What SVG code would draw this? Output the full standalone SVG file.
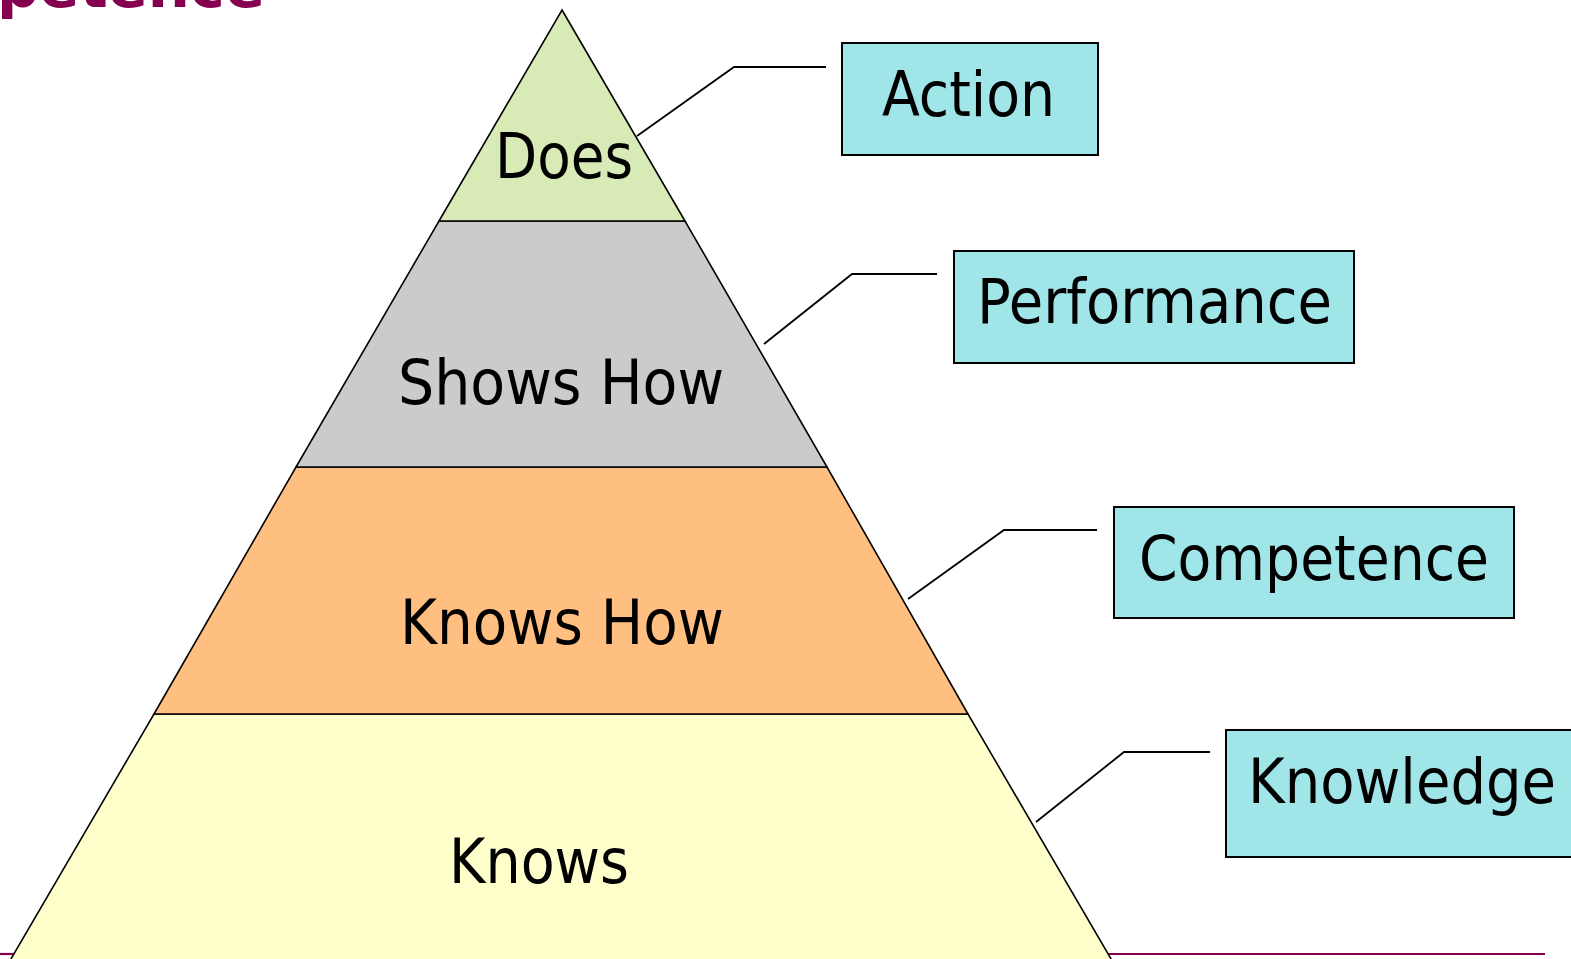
<svg xmlns="http://www.w3.org/2000/svg" width="1571" height="959" viewBox="0 0 1571 959">
<style>
.tier{stroke:#000;stroke-width:1.6;stroke-linejoin:miter}
.lbl{font-family:"DejaVu Sans","Liberation Sans",sans-serif;font-size:63px;fill:#000}
.box{fill:#A0E6E9;stroke:#000;stroke-width:2}
.conn{fill:none;stroke:#000;stroke-width:1.8}
.rule{stroke:#85004F;stroke-width:2.2}
</style>
<rect width="1571" height="959" fill="#fff"/>
<text x="-3" y="7" font-family="DejaVu Sans, Liberation Sans, sans-serif" font-weight="bold" font-size="58" fill="#85004F" textLength="268" lengthAdjust="spacingAndGlyphs">petence</text>
<line class="rule" x1="0" y1="954" x2="14" y2="954"/>
<line class="rule" x1="1108" y1="954" x2="1545" y2="954"/>
<g id="tier-knows">
<polygon class="tier" fill="#FFFFCC" points="154,714 968,714 1114,964 8,964"/>
<text class="lbl" x="449" y="883" textLength="180" lengthAdjust="spacingAndGlyphs">Knows</text>
</g>
<g id="tier-knows-how">
<polygon class="tier" fill="#FFBF80" points="296,467 827,467 968,714 154,714"/>
<text class="lbl" x="400" y="644" textLength="324" lengthAdjust="spacingAndGlyphs">Knows How</text>
</g>
<g id="tier-shows-how">
<polygon class="tier" fill="#CBCBCB" points="439,221 685,221 827,467 296,467"/>
<text class="lbl" x="398" y="404" textLength="326" lengthAdjust="spacingAndGlyphs">Shows How</text>
</g>
<g id="tier-does">
<polygon class="tier" fill="#D8EAB6" points="562,10 685,221 439,221"/>
<text class="lbl" x="495" y="178" textLength="138" lengthAdjust="spacingAndGlyphs">Does</text>
</g>
<g id="connectors">
<polyline class="conn" points="637,136 734,67 826,67"/>
<polyline class="conn" points="764,344 852,274 937,274"/>
<polyline class="conn" points="908,599 1004,530 1097,530"/>
<polyline class="conn" points="1036,822 1124,752 1210,752"/>
</g>
<g id="box-action">
<rect class="box" x="842" y="43" width="256" height="112"/>
<text class="lbl" x="882" y="116" textLength="173" lengthAdjust="spacingAndGlyphs">Action</text>
</g>
<g id="box-performance">
<rect class="box" x="954" y="251" width="400" height="112"/>
<text class="lbl" x="977" y="323" textLength="355" lengthAdjust="spacingAndGlyphs">Performance</text>
</g>
<g id="box-competence">
<rect class="box" x="1114" y="507" width="400" height="111"/>
<text class="lbl" x="1139" y="580" textLength="350" lengthAdjust="spacingAndGlyphs">Competence</text>
</g>
<g id="box-knowledge">
<rect class="box" x="1226" y="730" width="360" height="127"/>
<text class="lbl" x="1248" y="803" textLength="308" lengthAdjust="spacingAndGlyphs">Knowledge</text>
</g>
</svg>
